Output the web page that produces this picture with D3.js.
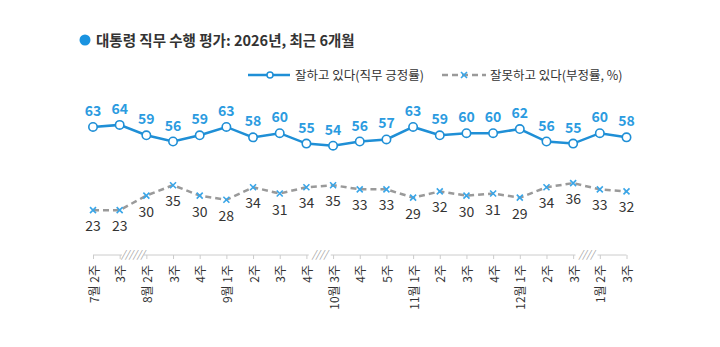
<!DOCTYPE html>
<html><head><meta charset="utf-8">
<script src="https://cdn.jsdelivr.net/npm/d3@7"></script>
<style>body{margin:0;background:#fff;} svg{display:block;font-family:"Noto Sans CJK KR","Noto Sans",sans-serif;}</style>
</head><body>
<script>
const weeks = ["7월 2주","3주","8월 2주","3주","4주","9월 1주","2주","3주","4주","10월 3주","4주","5주","11월 1주","2주","3주","4주","12월 1주","2주","3주","1월 2주","3주"];
const approve = [63,64,59,56,59,63,58,60,55,54,56,57,63,59,60,60,62,56,55,60,58];
const disapprove = [23,23,30,35,30,28,34,31,34,35,33,33,29,32,30,31,29,34,36,33,32];
const breaks = [{after:1, text:"//////"},{after:8, text:"////"},{after:18, text:"////"}];
const title = "대통령 직무 수행 평가: 2026년, 최근 6개월";
const legendLabels = ["잘하고 있다(직무 긍정률)","잘못하고 있다(부정률, %)"];

const W=720,H=347;
const blue="#1f8fd6", labelBlue="#2b9be0", grey="#9a9a9a";
const svg=d3.select("body").append("svg").attr("width",W).attr("height",H);

const x=d3.scalePoint().domain(d3.range(weeks.length)).range([93,626.5]);
const y=d3.scaleLinear().domain([0,100]).range([258,50]);

// title
svg.append("circle").attr("cx",85).attr("cy",40).attr("r",5.5).attr("fill","#1a93e0");
svg.append("text").attr("x",96).attr("y",45.5).attr("font-size",14.5).attr("font-weight",700).attr("fill","#333").text(title);

// legend
const lg=svg.append("g");
lg.append("line").attr("x1",248).attr("x2",290).attr("y1",75).attr("y2",75).attr("stroke",blue).attr("stroke-width",2.5);
lg.append("circle").attr("cx",270).attr("cy",75).attr("r",3).attr("fill","#fff").attr("stroke",blue).attr("stroke-width",1.5);
lg.append("text").attr("x",295).attr("y",79.5).attr("font-size",12.5).attr("fill","#333").text(legendLabels[0]);
lg.append("line").attr("x1",442).attr("x2",486).attr("y1",75).attr("y2",75).attr("stroke",grey).attr("stroke-width",2.5).attr("stroke-dasharray","6,4");
lg.append("path").attr("d","M-3,-3L3,3M3,-3L-3,3").attr("transform","translate(464,75)").attr("stroke","#3aa6e8").attr("stroke-width",1.6);
lg.append("text").attr("x",490).attr("y",79.5).attr("font-size",12.5).attr("fill","#333").text(legendLabels[1]);

// x axis
const axisY=255;
const ax=svg.append("g").attr("transform",`translate(0,${axisY})`)
  .call(d3.axisBottom(x).tickSize(4).tickFormat(""));
ax.select(".domain").attr("stroke","#ccc").attr("d",`M${x(0)},0H${x(weeks.length-1)}`);
ax.selectAll(".tick line").attr("stroke","#ccc");
// break marks
breaks.forEach(b=>{
  const mx=(x(b.after)+x(b.after+1))/2;
  svg.append("rect").attr("x",mx-11).attr("y",axisY-5).attr("width",22).attr("height",8).attr("fill","#fff");
  svg.append("text").attr("x",mx).attr("y",axisY+3).attr("text-anchor","middle").attr("font-size",10).attr("font-style","italic").attr("fill","#999").text(b.text);
});
// tick labels rotated
svg.append("g").selectAll("text").data(weeks).join("text")
  .attr("transform",(d,i)=>`translate(${x(i)},265) rotate(-90)`)
  .attr("text-anchor","end").attr("dominant-baseline","central")
  .attr("font-size",12).attr("fill","#333").text(d=>d);

// disapprove line
svg.append("path").datum(disapprove).attr("fill","none").attr("stroke",grey).attr("stroke-width",2.5).attr("stroke-dasharray","6,4")
  .attr("d",d3.line().x((d,i)=>x(i)).y(d=>y(d)));
svg.append("g").selectAll("path").data(disapprove).join("path")
  .attr("d","M-3,-3L3,3M3,-3L-3,3").attr("transform",(d,i)=>`translate(${x(i)},${y(d)})`)
  .attr("stroke","#3aa6e8").attr("stroke-width",1.6);
svg.append("g").selectAll("text").data(disapprove).join("text")
  .attr("x",(d,i)=>x(i)).attr("y",d=>y(d)+21).attr("text-anchor","middle")
  .attr("font-size",14).attr("fill","#333").text(d=>d);

// approve line
svg.append("path").datum(approve).attr("fill","none").attr("stroke",blue).attr("stroke-width",2.5)
  .attr("d",d3.line().x((d,i)=>x(i)).y(d=>y(d)));
svg.append("g").selectAll("circle").data(approve).join("circle")
  .attr("cx",(d,i)=>x(i)).attr("cy",d=>y(d)).attr("r",4.2)
  .attr("fill","#fff").attr("stroke",blue).attr("stroke-width",1.6);
svg.append("g").selectAll("text").data(approve).join("text")
  .attr("x",(d,i)=>x(i)).attr("y",d=>y(d)-11).attr("text-anchor","middle")
  .attr("font-size",14).attr("font-weight",700).attr("fill",labelBlue).text(d=>d);
</script>
</body></html>
